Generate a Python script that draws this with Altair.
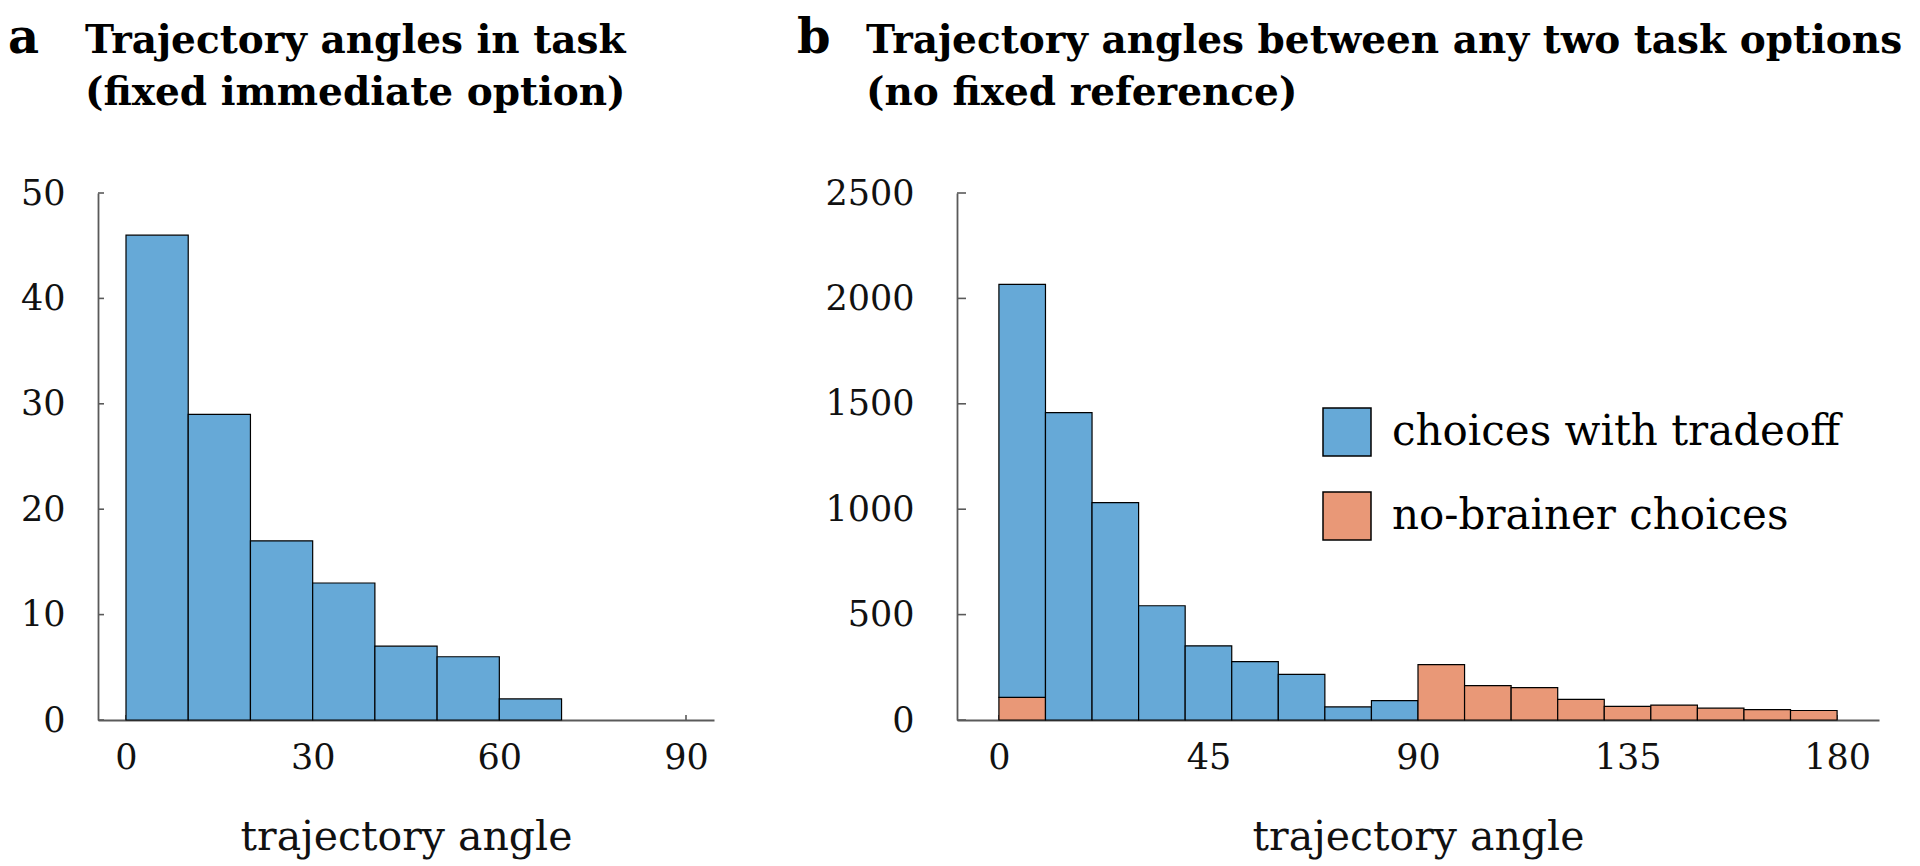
import altair as alt
import pandas as pd

# ---------------- data ----------------
# panel a: trajectory angles in task (10-degree bins)
a_bin_start = [0, 10, 20, 30, 40, 50, 60]
a_counts = [46, 29, 17, 13, 7, 6, 2]
a_yticks = [0, 10, 20, 30, 40, 50]
a_xticks = [0, 30, 60, 90]

# panel b: trajectory angles between any two task options (10-degree bins)
b_bin_start = [0, 10, 20, 30, 40, 50, 60, 70, 80, 90, 100, 110, 120, 130, 140, 150, 160, 170]
b_tradeoff = [1960, 1458, 1031, 542, 352, 277, 216, 62, 92, 0, 0, 0, 0, 0, 0, 0, 0, 0]
b_nobrainer = [107, 0, 0, 0, 0, 0, 0, 0, 0, 263, 163, 154, 98, 65, 71, 56, 49, 45]
b_yticks = [0, 500, 1000, 1500, 2000, 2500]
b_xticks = [0, 45, 90, 135, 180]

categories = ["choices with tradeoff", "no-brainer choices"]
cat_colors = ["#66A9D7", "#E99877"]

letter_a = "a"
title_a = ["Trajectory angles in task", "(fixed immediate option)"]
letter_b = "b"
title_b = ["Trajectory angles between any two task options", "(no fixed reference)"]
x_title = "trajectory angle"

# ---------------- style ----------------
FONT = "DejaVu Serif"
AX = "#5a5a5a"
W_A, W_B, H = 616, 922, 527
BIN = 10
TITLE_FS = 39

dfa = pd.DataFrame({"start": a_bin_start,
                    "end": [s + BIN for s in a_bin_start],
                    "lo": [0] * len(a_counts),
                    "hi": a_counts,
                    "cat": [categories[0]] * len(a_counts)})

rows = []
for s, t, n in zip(b_bin_start, b_tradeoff, b_nobrainer):
    if n > 0:
        rows.append({"start": s, "end": s + BIN, "lo": 0, "hi": n, "cat": categories[1]})
    if t > 0:
        rows.append({"start": s, "end": s + BIN, "lo": n, "hi": n + t, "cat": categories[0]})
dfb = pd.DataFrame(rows)


def text_layer(txt, x, y, size, weight="bold"):
    return alt.Chart(pd.DataFrame({"t": [txt]})).mark_text(
        align="left", baseline="alphabetic", font=FONT, fontSize=size,
        fontWeight=weight, color="black"
    ).encode(x=alt.value(x), y=alt.value(y), text="t:N")


def make_panel(df, xdom, ydom, xticks, yticks, ylabpad, ytick_len, width, color_enc,
               letter, title_lines, letter_x, title_x):
    xscale = alt.Scale(domain=xdom, nice=False, zero=False)
    yscale = alt.Scale(domain=ydom, nice=False)
    xaxis = alt.Axis(values=xticks, labelPadding=20, titlePadding=42, format="d")
    yaxis = alt.Axis(values=yticks, labelPadding=ylabpad, format="d")

    bars = alt.Chart(df).mark_rect(stroke="black", strokeWidth=1.2, opacity=1).encode(
        x=alt.X("start:Q", title=x_title, scale=xscale, axis=xaxis),
        x2="end:Q",
        y=alt.Y("hi:Q", title=None, scale=yscale, axis=yaxis),
        y2="lo:Q",
        color=color_enc)
    yt = alt.Chart(pd.DataFrame({"hi": yticks})).mark_rule(color=AX, strokeWidth=1.6).encode(
        y=alt.Y("hi:Q", title=None, scale=yscale, axis=yaxis),
        x=alt.value(0), x2=alt.value(ytick_len))
    xt = alt.Chart(pd.DataFrame({"start": xticks})).mark_rule(color=AX, strokeWidth=1.6).encode(
        x=alt.X("start:Q", title=x_title, scale=xscale, axis=xaxis),
        y=alt.value(H), y2=alt.value(H - 5))
    return alt.layer(
        xt, bars, yt,
        text_layer(letter, letter_x, -140, 48),
        text_layer(title_lines[0], title_x, -140, TITLE_FS),
        text_layer(title_lines[1], title_x, -88, TITLE_FS),
    ).properties(width=width, height=H)


color_a = alt.Color("cat:N", scale=alt.Scale(domain=categories, range=cat_colors), legend=None)
color_b = alt.Color("cat:N", scale=alt.Scale(domain=categories, range=cat_colors),
                    legend=alt.Legend(title=None, orient="none", legendX=365, legendY=214,
                                      symbolType="square", symbolSize=2304,
                                      symbolStrokeColor="black", symbolStrokeWidth=1.5,
                                      symbolOpacity=1,
                                      labelFont=FONT, labelFontSize=42, labelColor="black",
                                      labelLimit=800, labelOffset=20, rowPadding=30,
                                      padding=0, offset=0))

panel_a = make_panel(dfa, [-4.5, 94.5], [0, 50], a_xticks, a_yticks, 33, 6, W_A, color_a,
                     letter_a, title_a, -90, -13)
panel_b = make_panel(dfb, [-9, 189], [0, 2500], b_xticks, b_yticks, 43, 9, W_B, color_b,
                     letter_b, title_b, -160, -91)

chart = alt.hconcat(panel_a, panel_b, spacing=243, bounds="flush").resolve_legend(
    color="independent"
).resolve_scale(color="independent").properties(
    padding={"left": 0, "top": 7, "right": 0, "bottom": 8}
).configure_view(stroke=None).configure_axis(
    domainColor=AX, domainWidth=1.8, ticks=False, tickSize=0, grid=False,
    labelFont=FONT, labelFontSize=35, labelColor="#111",
    titleFont=FONT, titleFontSize=41, titleFontWeight="normal", titleColor="#111",
)

chart.save("out.html", embed_options={"renderer": "svg", "actions": False})
